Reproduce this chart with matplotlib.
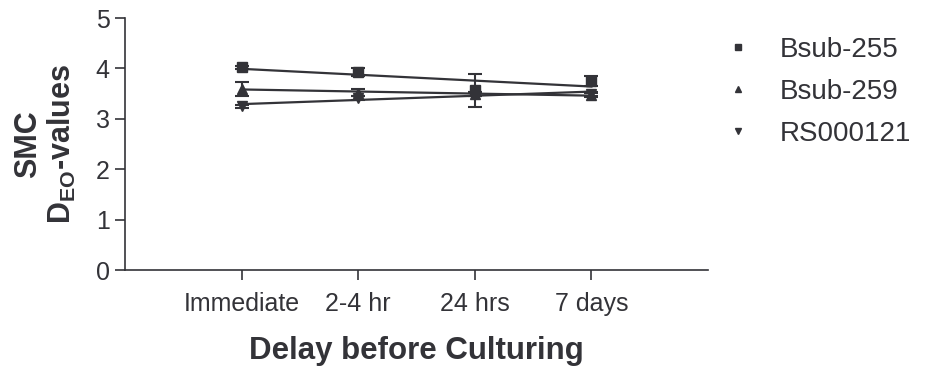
import numpy as np
import matplotlib
matplotlib.use('Agg')
import matplotlib.pyplot as plt

plt.rcParams['font.family'] = ['Liberation Sans', 'DejaVu Sans']
plt.rcParams['mathtext.fontset'] = 'custom'
plt.rcParams['mathtext.rm'] = 'Liberation Sans'
plt.rcParams['mathtext.bf'] = 'Liberation Sans:bold'

# Delay categories and mean values with error bars for each strain
delays = ['Immediate', '2-4 hr', '24 hrs', '7 days']
bsub255 = [4.02, 3.93, 3.57, 3.75]
bsub255_err = [0.03, 0.07, 0.33, 0.10]
bsub259 = [3.60, 3.52, 3.50, 3.47]
bsub259_err = [0.14, 0.07, 0.04, 0.04]
rs000121 = [3.25, 3.42, 3.50, 3.50]
rs000121_err = [0.03, 0.04, 0.04, 0.04]

ink = '#333338'
series = [
    ('Bsub-255', bsub255, bsub255_err, 's'),
    ('Bsub-259', bsub259, bsub259_err, '^'),
    ('RS000121', rs000121, rs000121_err, 'v'),
]

fig = plt.figure(figsize=(9.5, 3.69), dpi=100)
ax = fig.add_axes([0.1316, 0.268, 0.6137, 0.683])

x = np.arange(1, len(delays) + 1)
handles = []
for name, vals, err, mk in series:
    ax.errorbar(x, vals, yerr=err, fmt='none', ecolor=ink, elinewidth=1.5,
                capsize=5, capthick=1.5)
    ax.plot(x, vals, linestyle='none', marker=mk, markersize=7, color=ink)
    # linear fit through the means
    k, b = np.polyfit(x, vals, 1)
    ax.plot(x, k * x + b, color=ink, linewidth=1.6)
    h, = ax.plot([], [], linestyle='none', marker=mk, markersize=5,
                 color=ink, label=name)
    handles.append(h)

ax.set_xlim(0, 5)
ax.set_ylim(0, 5)
ax.set_xticks(x)
ax.set_xticklabels(delays)
ax.set_yticks(range(0, 6))
ax.spines['top'].set_visible(False)
ax.spines['right'].set_visible(False)
for s in ('left', 'bottom'):
    ax.spines[s].set_color(ink)
    ax.spines[s].set_linewidth(1.2)
ax.tick_params(direction='out', length=7, width=1.2, color=ink,
               labelcolor=ink, labelsize=18)
ax.tick_params(axis='x', pad=9)
ax.tick_params(axis='y', pad=4)

ax.set_xlabel('Delay before Culturing', fontsize=22.5, fontweight='bold',
              color=ink, labelpad=14)
ax.set_ylabel('SMC\n' + r'D$_{\mathbf{EO}}$-values', fontsize=22,
              fontweight='bold', color=ink, labelpad=13, linespacing=1.1)

leg = fig.legend(handles=handles, loc='upper left',
                 bbox_to_anchor=(0.762, 0.90), frameon=False, fontsize=20,
                 handlelength=1.0, handletextpad=1.0, labelspacing=0.58,
                 borderpad=0, borderaxespad=0)
for t in leg.get_texts():
    t.set_color(ink)

fig.savefig('out.png', dpi=100)
